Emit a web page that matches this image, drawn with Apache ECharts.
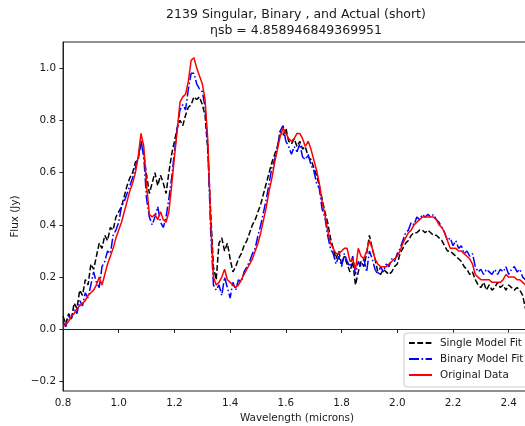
<!DOCTYPE html>
<html>
<head>
<meta charset="utf-8">
<script src="https://cdn.jsdelivr.net/npm/echarts@6/dist/echarts.min.js"></script>
<style>html,body{margin:0;padding:0;background:#fff;}#chart{width:525px;height:426px;}</style>
</head>
<body>
<div id="chart"></div>
<script>
const wavelength = [0.80,0.81,0.82,0.83,0.84,0.85,0.86,0.87,0.88,0.89,0.90,0.91,0.92,0.93,0.94,0.95,0.96,0.97,0.98,0.99,
1.00,1.01,1.02,1.03,1.04,1.05,1.06,1.07,1.08,1.09,1.10,1.11,1.12,1.13,1.14,1.15,1.16,1.17,1.18,1.19,
1.20,1.21,1.22,1.23,1.24,1.25,1.26,1.27,1.28,1.29,1.30,1.31,1.32,1.33,1.34,1.35,1.36,1.37,1.38,1.39,
1.40,1.41,1.42,1.43,1.44,1.45,1.46,1.47,1.48,1.49,1.50,1.51,1.52,1.53,1.54,1.55,1.56,1.57,1.58,1.59,
1.60,1.61,1.62,1.63,1.64,1.65,1.66,1.67,1.68,1.69,1.70,1.71,1.72,1.73,1.74,1.75,1.76,1.77,1.78,1.79,
1.80,1.81,1.82,1.83,1.84,1.85,1.86,1.87,1.88,1.89,1.90,1.91,1.92,1.93,1.94,1.95,1.96,1.97,1.98,1.99,
2.00,2.01,2.02,2.03,2.04,2.05,2.06,2.07,2.08,2.09,2.10,2.11,2.12,2.13,2.14,2.15,2.16,2.17,2.18,2.19,
2.20,2.21,2.22,2.23,2.24,2.25,2.26,2.27,2.28,2.29,2.30,2.31,2.32,2.33,2.34,2.35,2.36,2.37,2.38,2.39,
2.40,2.41,2.42,2.43,2.44,2.45,2.46];

const singleFit = [0.05,0.02,0.06,0.04,0.10,0.08,0.15,0.13,0.19,0.17,0.25,0.23,0.28,0.33,0.31,0.36,0.34,0.39,0.38,0.43,
0.45,0.47,0.51,0.55,0.58,0.60,0.64,0.65,0.72,0.67,0.59,0.52,0.56,0.60,0.55,0.59,0.56,0.52,0.60,0.67,
0.72,0.77,0.80,0.78,0.82,0.85,0.86,0.89,0.88,0.89,0.86,0.82,0.68,0.45,0.24,0.19,0.33,0.35,0.30,0.33,
0.27,0.22,0.24,0.27,0.29,0.32,0.34,0.37,0.40,0.42,0.45,0.48,0.52,0.56,0.60,0.64,0.67,0.70,0.76,0.74,
0.77,0.72,0.71,0.73,0.70,0.72,0.69,0.70,0.66,0.65,0.62,0.59,0.55,0.50,0.45,0.41,0.35,0.31,0.27,0.30,
0.25,0.28,0.25,0.22,0.26,0.17,0.22,0.26,0.24,0.29,0.36,0.31,0.27,0.22,0.21,0.23,0.22,0.21,0.22,0.24,
0.25,0.29,0.31,0.33,0.34,0.36,0.37,0.37,0.38,0.38,0.37,0.38,0.37,0.36,0.36,0.35,0.34,0.32,0.30,0.30,
0.29,0.28,0.27,0.26,0.24,0.23,0.21,0.22,0.19,0.17,0.16,0.18,0.15,0.17,0.15,0.16,0.18,0.16,0.17,0.15,
0.17,0.16,0.15,0.16,0.15,0.13,0.08];

const binaryFit = [0.03,0.01,0.05,0.04,0.08,0.06,0.11,0.09,0.14,0.12,0.17,0.22,0.18,0.16,0.24,0.26,0.30,0.29,0.36,0.38,
0.41,0.47,0.49,0.52,0.55,0.58,0.62,0.66,0.72,0.66,0.50,0.43,0.40,0.43,0.47,0.41,0.39,0.43,0.50,0.58,
0.68,0.77,0.84,0.86,0.84,0.92,0.98,0.98,0.94,0.92,0.91,0.85,0.70,0.38,0.17,0.15,0.17,0.13,0.20,0.16,
0.12,0.18,0.15,0.19,0.18,0.22,0.24,0.26,0.29,0.31,0.36,0.40,0.45,0.50,0.56,0.62,0.65,0.70,0.76,0.78,
0.72,0.70,0.67,0.70,0.68,0.71,0.66,0.65,0.67,0.63,0.61,0.56,0.54,0.46,0.43,0.36,0.31,0.29,0.25,0.28,
0.24,0.29,0.26,0.24,0.28,0.21,0.26,0.24,0.27,0.22,0.30,0.27,0.23,0.21,0.24,0.22,0.25,0.24,0.27,0.26,
0.29,0.31,0.34,0.37,0.38,0.41,0.40,0.43,0.42,0.44,0.43,0.44,0.43,0.44,0.42,0.41,0.39,0.37,0.34,0.35,
0.32,0.34,0.31,0.32,0.29,0.30,0.28,0.29,0.24,0.22,0.23,0.21,0.23,0.22,0.21,0.23,0.21,0.23,0.22,0.24,
0.21,0.23,0.24,0.22,0.23,0.20,0.19];

const originalData = [0.01,0.02,0.03,0.05,0.06,0.08,0.09,0.10,0.11,0.13,0.14,0.15,0.17,0.20,0.17,0.21,0.25,0.28,0.31,0.35,
0.38,0.41,0.45,0.49,0.53,0.56,0.60,0.66,0.75,0.70,0.55,0.44,0.43,0.44,0.42,0.45,0.42,0.41,0.45,0.55,
0.66,0.76,0.87,0.89,0.90,0.95,1.03,1.04,1.00,0.97,0.94,0.88,0.72,0.42,0.20,0.17,0.18,0.20,0.23,0.19,
0.18,0.17,0.16,0.17,0.19,0.21,0.23,0.25,0.27,0.30,0.33,0.37,0.42,0.47,0.53,0.58,0.64,0.69,0.74,0.77,
0.75,0.73,0.72,0.73,0.75,0.75,0.73,0.70,0.72,0.69,0.65,0.61,0.56,0.49,0.44,0.38,0.33,0.31,0.29,0.29,
0.30,0.31,0.31,0.26,0.27,0.23,0.31,0.28,0.27,0.30,0.34,0.31,0.27,0.25,0.24,0.24,0.24,0.25,0.26,0.27,
0.28,0.30,0.33,0.35,0.37,0.38,0.40,0.41,0.42,0.43,0.43,0.43,0.43,0.43,0.42,0.40,0.39,0.37,0.34,0.31,
0.31,0.31,0.30,0.30,0.29,0.28,0.27,0.25,0.21,0.20,0.19,0.19,0.19,0.19,0.18,0.18,0.18,0.18,0.19,0.21,
0.20,0.20,0.20,0.19,0.19,0.18,0.17];

const xTicks = [0.8,1.0,1.2,1.4,1.6,1.8,2.0,2.2,2.4];
const yTicks = [-0.2,0.0,0.2,0.4,0.6,0.8,1.0];
const seriesNames = ['Single Model Fit','Binary Model Fit','Original Data'];

const pair = (ys) => wavelength.map((w, i) => [w, ys[i]]);
const fmt = (v) => v.toFixed(1).replace('-', '\u2212');
const FONT = 'DejaVu Sans';
const TXT = '#1a1a1a';
const FS = 10.4;

const chart = echarts.init(document.getElementById('chart'), null, {renderer: 'canvas'});
chart.setOption({
  animation: false,
  backgroundColor: '#fff',
  textStyle: {fontFamily: FONT},
  title: {
    text: '2139 Singular, Binary , and Actual (short)\n\u03b7sb = 4.858946849369951',
    left: 296, top: 7, padding: 0,
    textAlign: 'center',
    textStyle: {fontFamily: FONT, fontSize: 12.5, fontWeight: 'normal', color: TXT, lineHeight: 15.5}
  },
  grid: {left: 63, top: 42, right: -6, bottom: 35, show: true, borderColor: '#222', borderWidth: 1,
         containLabel: false, outerBoundsMode: 'none'},
  xAxis: {
    type: 'value', min: 0.8, max: 2.48,
    name: 'Wavelength (microns)', nameLocation: 'middle', nameGap: 20,
    nameTextStyle: {fontFamily: FONT, fontSize: FS, color: TXT},
    axisLine: {show: true, lineStyle: {color: '#222', width: 1}},
    axisTick: {show: true, length: 3.6, lineStyle: {color: '#222'}, customValues: xTicks},
    axisLabel: {show: true, margin: 7, fontFamily: FONT, fontSize: FS, color: TXT, customValues: xTicks, formatter: fmt},
    splitLine: {show: false}
  },
  yAxis: {
    type: 'value', min: -0.236, max: 1.1,
    name: 'Flux (Jy)', nameLocation: 'middle', nameGap: 28,
    nameTextStyle: {fontFamily: FONT, fontSize: FS, color: TXT},
    axisLine: {show: true, lineStyle: {color: '#222', width: 1}},
    axisTick: {show: true, length: 3.6, lineStyle: {color: '#222'}, customValues: yTicks},
    axisLabel: {show: true, margin: 7, fontFamily: FONT, fontSize: FS, color: TXT, customValues: yTicks, formatter: fmt},
    splitLine: {show: false}
  },
  legend: {
    orient: 'vertical', left: 404, top: 333,
    padding: [4, 14, 6, 4], itemGap: 4, itemWidth: 23, itemHeight: 12,
    backgroundColor: 'rgba(255,255,255,0.8)', borderColor: '#cccccc', borderWidth: 1, borderRadius: 3,
    itemStyle: {opacity: 0},
    textStyle: {fontFamily: FONT, fontSize: FS, color: TXT, lineHeight: 12, padding: [0, 0, 0, 3]},
    data: seriesNames
  },
  series: [
    {name: seriesNames[0], type: 'line', data: pair(singleFit), showSymbol: false, symbol: 'none',
     lineStyle: {color: '#000', width: 1.5, type: [5.8, 2.5]}, itemStyle: {color: '#000'}, z: 2},
    {name: seriesNames[1], type: 'line', data: pair(binaryFit), showSymbol: false, symbol: 'none',
     lineStyle: {color: '#0000ff', width: 1.5, type: [10, 2.5, 1.6, 2.5]}, itemStyle: {color: '#0000ff'}, z: 3},
    {name: seriesNames[2], type: 'line', data: pair(originalData), showSymbol: false, symbol: 'none',
     lineStyle: {color: '#ff0000', width: 1.5, type: 'solid'}, itemStyle: {color: '#ff0000'}, z: 4}
  ]
});
</script>
</body>
</html>
